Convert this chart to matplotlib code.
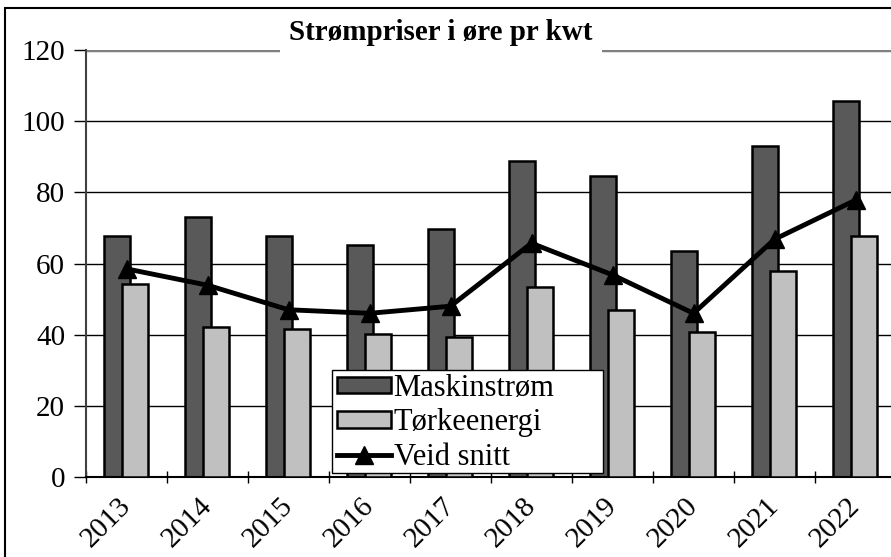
import matplotlib
matplotlib.use("Agg")
import matplotlib.pyplot as plt
import numpy as np
from matplotlib.lines import Line2D
from matplotlib.patches import Rectangle

years = ["2013", "2014", "2015", "2016", "2017", "2018", "2019", "2020", "2021", "2022"]
maskinstrom = [67.7, 73.1, 67.7, 65.1, 69.8, 88.9, 84.6, 63.4, 93.0, 105.8]
torkeenergi = [54.2, 42.2, 41.5, 40.1, 39.3, 53.3, 46.9, 40.7, 58.0, 67.7]
veid_snitt = [58.5, 53.9, 47.0, 46.0, 48.0, 65.7, 56.8, 46.0, 66.8, 77.8]

plt.rcParams["font.family"] = ["Liberation Serif", "DejaVu Serif"]

fig = plt.figure(figsize=(8.91, 5.57), dpi=100)
# axes placed in pixels: plot area runs a little past the right edge
ax = fig.add_axes([86 / 891, 1 - 477 / 557, 810 / 891, 427 / 557])

# outer chart frame
fig.patches.append(Rectangle((5 / 891, -0.05), 1.1, 1 - 8 / 557 + 0.05,
                             transform=fig.transFigure, fill=False,
                             edgecolor="black", linewidth=1.5, zorder=0))

x = np.arange(len(years)) + 0.5
w = 0.32
ax.bar(x - 0.117, maskinstrom, w, color="#595959", edgecolor="black",
       linewidth=1.8, label="Maskinstrøm", zorder=2)
ax.bar(x + 0.11, torkeenergi, w, color="#c0c0c0", edgecolor="black",
       linewidth=1.8, label="Tørkeenergi", zorder=3)
ax.plot(x, veid_snitt, color="black", linewidth=3.5, marker="^",
        markersize=13, label="Veid snitt", zorder=4)

ax.set_xlim(0, 10)
ax.set_ylim(0, 120)
ax.set_yticks(range(0, 121, 20))
ax.tick_params(axis="y", labelsize=21, length=9, width=1, direction="out", pad=6)
ax.set_xticks(np.arange(0, 11))
ax.set_xticklabels([])
ax.tick_params(axis="x", length=8, width=1, direction="inout")
ax.set_xticks(x, minor=True)
ax.set_xticklabels(years, minor=True, rotation=45, ha="right", va="center",
                   rotation_mode="anchor", fontsize=21)
ax.tick_params(axis="x", which="minor", length=0, pad=18)

for v in range(20, 101, 20):
    ax.axhline(v, color="black", linewidth=1, zorder=1)
ax.axhline(120, color="#808080", linewidth=2.5, zorder=1)

for s in ["top", "right"]:
    ax.spines[s].set_visible(False)
ax.spines["left"].set_color("#404040")
ax.spines["left"].set_linewidth(1.5)
ax.spines["bottom"].set_linewidth(1.5)

fig.text(441 / 891, 1 - 33 / 557, "Strømpriser i øre pr kwt", ha="center",
         va="center", fontsize=21, fontweight="bold",
         bbox=dict(facecolor="white", edgecolor="none", pad=7), zorder=5)

# legend box (wider than its text, as in the original)
ax.add_patch(Rectangle((332 / 891, 1 - 473 / 557), 271 / 891, 103 / 557,
                       transform=fig.transFigure, facecolor="white",
                       edgecolor="black", linewidth=1, zorder=6))
handles = [Rectangle((0, 0), 1, 1, facecolor="#595959", edgecolor="black", linewidth=1.8),
           Rectangle((0, 0), 1, 1, facecolor="#c0c0c0", edgecolor="black", linewidth=1.8),
           Line2D([], [], color="black", linewidth=3.5, marker="^", markersize=13)]
leg = ax.legend(handles, ["Maskinstrøm", "Tørkeenergi", "Veid snitt"],
                loc="lower left", bbox_to_anchor=(334 / 891, 1 - 475 / 557),
                bbox_transform=fig.transFigure, fontsize=22, frameon=False,
                borderpad=0.1, labelspacing=0.18, handlelength=1.75,
                handleheight=0.45, handletextpad=0.1, borderaxespad=0)
leg.set_zorder(7)

fig.savefig("out.png", dpi=100)
